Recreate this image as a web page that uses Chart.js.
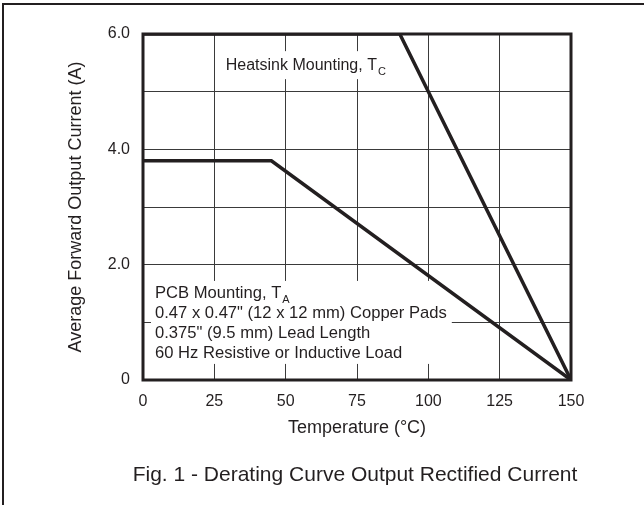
<!DOCTYPE html>
<html lang="en">
<head>
  <meta charset="UTF-8" />
  <title>Fig. 1 - Derating Curve Output Rectified Current</title>
  <script src="https://cdn.jsdelivr.net/npm/chart.js"></script>
  <style>
    html, body { margin: 0; padding: 0; background: #fff; }
    #wrap { width: 644px; height: 505px; position: relative; }
  </style>
</head>
<body>
  <div id="wrap"><canvas id="deratingChart"></canvas></div>

  <script>
    // values
    const heatsinkTemp = [0, 90, 150];
    const heatsinkCurrent = [6.0, 6.0, 0];
    const pcbTemp = [0, 45, 150];
    const pcbCurrent = [3.8, 3.8, 0];
    const xTicks = [0, 25, 50, 75, 100, 125, 150];
    const yTickLabels = ['0', '', '2.0', '', '4.0', '', '6.0'];

    const heatsinkNote = [['Heatsink Mounting, T', 'C']];
    const pcbNote = [
      ['PCB Mounting, T', 'A'],
      ['0.47 x 0.47" (12 x 12 mm) Copper Pads', ''],
      ['0.375" (9.5 mm) Lead Length', ''],
      ['60 Hz Resistive or Inductive Load', '']
    ];
    const caption = 'Fig. 1 - Derating Curve Output Rectified Current';

    const INK = '#231f20';
    const FONT = '"Liberation Sans", Arial, Helvetica, sans-serif';

    function toPoints(xs, ys) {
      return xs.map((x, i) => ({ x: x, y: ys[i] }));
    }

    // draws a block of text lines (with optional subscript) on a white box
    function drawNote(chart, lines, tx, ty, size, lineGap, pad) {
      const ctx = chart.ctx;
      const left = chart.scales.x.getPixelForValue(tx);
      const top = chart.scales.y.getPixelForValue(ty);
      const main = size + 'px ' + FONT;
      const sub = Math.round(size * 0.68) + 'px ' + FONT;
      ctx.save();
      let w = 0;
      lines.forEach(l => {
        ctx.font = main;
        let lw = ctx.measureText(l[0]).width;
        if (l[1]) { ctx.font = sub; lw += ctx.measureText(l[1]).width + 1; }
        w = Math.max(w, lw);
      });
      ctx.fillStyle = '#fff';
      ctx.fillRect(left - pad[3], top - pad[0], w + pad[3] + pad[1], (lines.length - 1) * lineGap + pad[0] + pad[2]);
      ctx.fillStyle = INK;
      ctx.textBaseline = 'middle';
      ctx.textAlign = 'left';
      lines.forEach((l, i) => {
        const y = top + i * lineGap;
        ctx.font = main;
        ctx.fillText(l[0], left, y);
        if (l[1]) {
          const mw = ctx.measureText(l[0]).width;
          ctx.font = sub;
          ctx.fillText(l[1], left + mw + 1, y + 7);
        }
      });
      ctx.restore();
    }

    const figurePlugin = {
      id: 'figure',
      beforeDraw(chart) {
        const ctx = chart.ctx;
        ctx.save();
        ctx.fillStyle = '#fff';
        ctx.fillRect(0, 0, chart.width, chart.height);
        // outer frame (only top and left edges are inside the picture)
        ctx.strokeStyle = INK;
        ctx.lineWidth = 2;
        ctx.beginPath();
        ctx.moveTo(3, chart.height);
        ctx.lineTo(3, 4);
        ctx.lineTo(chart.width, 4);
        ctx.stroke();
        ctx.restore();
      },
      beforeDatasetsDraw(chart) {
        drawNote(chart, heatsinkNote, 29, 5.46, 16, 20, [14, 10, 14, 4]);
        drawNote(chart, pcbNote, 4.2, 1.51, 16.6, 20, [12, 5, 11, 4]);
      },
      afterDatasetsDraw(chart) {
        const ctx = chart.ctx;
        const a = chart.chartArea;
        ctx.save();
        ctx.strokeStyle = INK;
        ctx.lineWidth = 3;
        ctx.strokeRect(a.left, a.top, a.right - a.left, a.bottom - a.top);
        ctx.fillStyle = INK;
        ctx.font = '21px ' + FONT;
        ctx.textAlign = 'center';
        ctx.textBaseline = 'middle';
        ctx.fillText(caption, 355, 475);
        ctx.restore();
      }
    };

    const ctx = document.getElementById('deratingChart').getContext('2d');
    new Chart(ctx, {
      type: 'scatter',
      data: {
        datasets: [
          {
            label: 'Heatsink Mounting, TC',
            data: toPoints(heatsinkTemp, heatsinkCurrent),
            showLine: true,
            borderColor: INK,
            borderWidth: 3.5,
            pointRadius: 0,
            tension: 0
          },
          {
            label: 'PCB Mounting, TA',
            data: toPoints(pcbTemp, pcbCurrent),
            showLine: true,
            borderColor: INK,
            borderWidth: 3.5,
            pointRadius: 0,
            tension: 0
          }
        ]
      },
      options: {
        responsive: true,
        maintainAspectRatio: false,
        animation: false,
        layout: { padding: { left: 65, top: 34, right: 73, bottom: 66 } },
        plugins: {
          legend: { display: false },
          tooltip: { enabled: false }
        },
        scales: {
          x: {
            type: 'linear',
            min: 0,
            max: 150,
            afterBuildTicks: scale => { scale.ticks = xTicks.map(v => ({ value: v })); },
            afterFit: scale => { scale.height = 59; },
            grid: { color: '#3a3a3a', lineWidth: 1, drawTicks: false },
            border: { display: false },
            ticks: {
              padding: 12,
              color: INK,
              font: { family: FONT, size: 16 },
              callback: v => String(v)
            },
            title: {
              display: true,
              text: 'Temperature (°C)',
              color: INK,
              padding: 0,
              font: { family: FONT, size: 18 }
            }
          },
          y: {
            min: 0,
            max: 6,
            ticks: {
              stepSize: 1,
              padding: 13,
              color: INK,
              font: { family: FONT, size: 16 },
              callback: (v, i) => yTickLabels[i]
            },
            afterFit: scale => { scale.width = 78; },
            grid: { color: '#3a3a3a', lineWidth: 1, drawTicks: false },
            border: { display: false },
            title: {
              display: true,
              text: 'Average Forward Output Current (A)',
              color: INK,
              padding: 0,
              font: { family: FONT, size: 18 }
            }
          }
        }
      },
      plugins: [figurePlugin]
    });
  </script>
</body>
</html>
